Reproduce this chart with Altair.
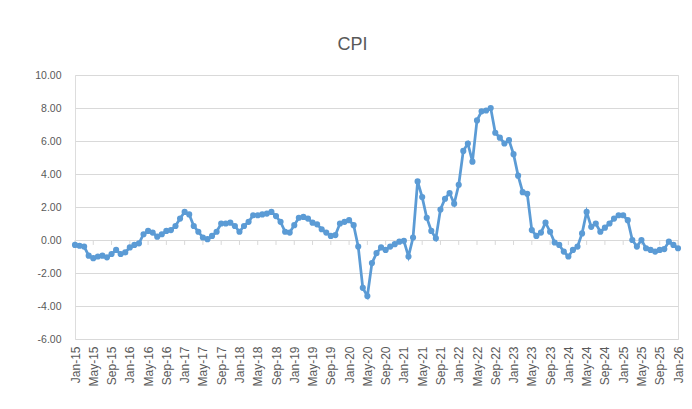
import altair as alt
import pandas as pd

# ---- data ----
month_names = ["Jan", "Feb", "Mar", "Apr", "May", "Jun",
               "Jul", "Aug", "Sep", "Oct", "Nov", "Dec"]
years = list(range(2015, 2026))

cpi_2015 = [-0.3, -0.35, -0.4, -0.95, -1.1, -1.0, -0.95, -1.05, -0.85, -0.6, -0.85, -0.75]
cpi_2016 = [-0.45, -0.3, -0.2, 0.35, 0.55, 0.45, 0.2, 0.35, 0.55, 0.6, 0.85, 1.3]
cpi_2017 = [1.7, 1.55, 0.85, 0.5, 0.15, 0.05, 0.25, 0.5, 1.0, 1.0, 1.05, 0.85]
cpi_2018 = [0.5, 0.85, 1.1, 1.5, 1.5, 1.55, 1.6, 1.7, 1.45, 1.1, 0.5, 0.45]
cpi_2019 = [0.9, 1.35, 1.4, 1.3, 1.05, 0.95, 0.65, 0.45, 0.25, 0.3, 1.0, 1.1]
cpi_2020 = [1.2, 0.9, -0.4, -2.9, -3.4, -1.4, -0.8, -0.45, -0.6, -0.4, -0.25, -0.1]
cpi_2021 = [-0.05, -1.0, 0.15, 3.55, 2.6, 1.35, 0.55, 0.1, 1.85, 2.5, 2.85, 2.2]
cpi_2022 = [3.35, 5.4, 5.85, 4.75, 7.25, 7.8, 7.85, 8.0, 6.5, 6.2, 5.85, 6.05]
cpi_2023 = [5.2, 3.9, 2.9, 2.8, 0.6, 0.25, 0.45, 1.05, 0.5, -0.15, -0.3, -0.7]
cpi_2024 = [-1.0, -0.6, -0.4, 0.4, 1.7, 0.8, 1.0, 0.5, 0.75, 1.0, 1.3, 1.5]
cpi_2025 = [1.5, 1.2, 0.0, -0.4, 0.0, -0.5, -0.6, -0.7, -0.6, -0.55, -0.1, -0.3]
cpi_2026 = [-0.5]

y_ticks = [-6, -4, -2, 0, 2, 4, 6, 8, 10]

series = (cpi_2015 + cpi_2016 + cpi_2017 + cpi_2018 + cpi_2019 + cpi_2020 +
          cpi_2021 + cpi_2022 + cpi_2023 + cpi_2024 + cpi_2025 + cpi_2026)
labels = [f"{m}-{y % 100:02d}" for y in years for m in month_names] + ["Jan-26"]
tick_labels = labels[::4]

df = pd.DataFrame({"month": labels, "cpi": series})
ticks_df = pd.DataFrame({"month": tick_labels})

FONT = "Liberation Sans"
TXT = "#595959"
GRID = "#D9D9D9"
BLUE = "#5B9BD5"

x_scale = alt.Scale(type="point", padding=0, domain=labels)
y_scale = alt.Scale(domain=[-6, 10], nice=False, zero=False)

x_axis = alt.Axis(values=tick_labels, labelAngle=270, ticks=False, domain=False,
                  grid=False, labelFontSize=12, labelColor=TXT, labelFont=FONT,
                  labelPadding=7, labelOverlap=False)
y_axis = alt.Axis(values=y_ticks, tickCount=9, grid=True, gridColor=GRID, gridWidth=1,
                  domain=False, ticks=False, labelFontSize=10.5, labelColor=TXT,
                  labelFont=FONT, labelPadding=14, labelOverlap=False,
                  labelExpr="(datum.value < 0 ? '-' : '') + format(abs(datum.value), '.2f')")

axis_ticks = alt.Chart(ticks_df).mark_rule(color=GRID, strokeWidth=1).encode(
    x=alt.X("month:O", scale=x_scale, title=None, axis=x_axis),
    y=alt.datum(0, scale=y_scale, axis=y_axis, title=None),
    y2=alt.datum(-0.3),
)

line = alt.Chart(df).mark_line(
    color=BLUE, strokeWidth=2.75,
    point=alt.OverlayMarkDef(filled=True, size=38, color=BLUE, opacity=1),
).encode(
    x=alt.X("month:O", scale=x_scale, title=None, axis=x_axis),
    y=alt.Y("cpi:Q", scale=y_scale, title=None, axis=y_axis),
)

chart = alt.layer(axis_ticks, line).properties(
    width=603,
    height=264,
    padding={"left": 67, "top": 67, "right": 6, "bottom": 62},
    autosize=alt.AutoSizeParams(type="none"),
    title=alt.TitleParams("CPI", fontSize=18, font=FONT, color=TXT,
                          fontWeight="normal", anchor="middle", frame="group",
                          baseline="alphabetic", offset=2, dx=-24),
).configure_view(stroke=None).configure(background="white")

chart.save("out.html", embed_options={"renderer": "svg", "actions": False})
